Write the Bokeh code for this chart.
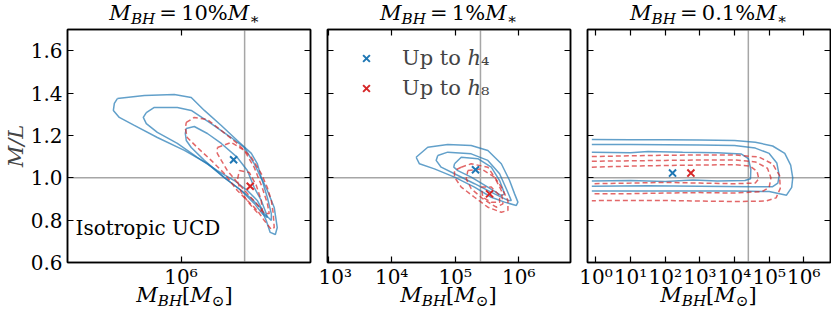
from bokeh.plotting import figure
from bokeh.layouts import row, column
from bokeh.models import (Label, Span, LogAxis, LinearAxis, FixedTicker, Legend,
                          LegendItem, Range1d, Div)
from bokeh.embed import file_html
from bokeh.resources import INLINE

FONT = "DejaVu Serif"
BLUE = "#1f77b4"
RED = "#d62728"

# ------------------------------------------------------------------ data
true_ml = 1.0
true_mbh = [2.5e6, 2.5e5, 2.5e4]
bh_fraction_labels = ["10%", "1%", "0.1%"]
x_log_limits = [(5.29, 6.81), (2.99, 6.815), (-0.245, 6.77)]
x_tick_exps = [[6], [3, 4, 5, 6], [0, 1, 2, 3, 4, 5, 6]]
y_ticks = [0.6, 0.8, 1.0, 1.2, 1.4, 1.6]
y_tick_labels = ["0.6", "0.8", "1.0", "1.2", "1.4", "1.6"]
y_limits = (0.6, 1.7)
legend_labels = ["Up to \u210e\u2084", "Up to \u210e\u2088"]
panel_note = "Isotropic UCD"
y_axis_title = "M/L"

best_h4_logmbh = [6.329, 5.320, 2.21]
best_h4_ml = [1.085, 1.038, 1.022]
best_h8_logmbh = [6.433, 5.541, 2.74]
best_h8_ml = [0.960, 0.924, 1.022]

# panel 1 (10%) contours, log10(M_BH) and M/L
p1_h4_c1_x = [5.602, 5.771, 5.958, 6.064, 6.146, 6.252, 6.352, 6.440, 6.477, 6.502, 6.540, 6.583, 6.602, 6.590,
              6.558, 6.533, 6.496, 6.433, 6.352, 6.271, 6.165, 6.021, 5.852, 5.708, 5.614, 5.577, 5.583]
p1_h4_c1_y = [1.374, 1.388, 1.393, 1.379, 1.318, 1.247, 1.176, 1.115, 1.067, 1.001, 0.940, 0.860, 0.765, 0.732,
              0.742, 0.798, 0.860, 0.907, 0.954, 1.001, 1.067, 1.129, 1.190, 1.247, 1.285, 1.318, 1.351]
p1_h4_c2_x = [5.783, 5.833, 5.977, 6.064, 6.189, 6.314, 6.396, 6.458, 6.508, 6.540, 6.565, 6.565,
              6.521, 6.477, 6.415, 6.333, 6.227, 6.102, 5.977, 5.852, 5.783, 5.764]
p1_h4_c2_y = [1.308, 1.332, 1.332, 1.318, 1.256, 1.190, 1.143, 1.067, 0.987, 0.907, 0.831, 0.798,
              0.831, 0.893, 0.940, 0.987, 1.034, 1.096, 1.162, 1.214, 1.256, 1.285]
p1_h4_c3_x = [6.033, 6.083, 6.165, 6.252, 6.352, 6.415, 6.458, 6.502, 6.533, 6.540,
              6.508, 6.458, 6.377, 6.271, 6.146, 6.064, 6.033, 6.027]
p1_h4_c3_y = [1.233, 1.242, 1.209, 1.162, 1.096, 1.034, 0.954, 0.893, 0.831, 0.812,
              0.831, 0.879, 0.940, 1.001, 1.082, 1.143, 1.176, 1.209]
p1_h8_c1_x = [6.033, 6.083, 6.165, 6.252, 6.352, 6.440, 6.502, 6.540, 6.565, 6.577, 6.583,
              6.565, 6.521, 6.477, 6.415, 6.352, 6.271, 6.189, 6.102, 6.039, 6.027]
p1_h8_c1_y = [1.261, 1.285, 1.275, 1.223, 1.162, 1.096, 1.020, 0.954, 0.893, 0.831, 0.765,
              0.756, 0.798, 0.846, 0.893, 0.940, 1.020, 1.082, 1.143, 1.190, 1.233]
p1_h8_c2_x = [6.228, 6.315, 6.396, 6.458, 6.508, 6.540, 6.552, 6.521, 6.471, 6.415, 6.352, 6.290, 6.252, 6.227]
p1_h8_c2_y = [1.143, 1.167, 1.129, 1.049, 0.954, 0.879, 0.831, 0.831, 0.879, 0.926, 0.978, 1.034, 1.082, 1.115]
p1_h8_c3_x = [6.365, 6.427, 6.471, 6.502, 6.508, 6.477, 6.427, 6.377, 6.352]
p1_h8_c3_y = [1.034, 1.025, 0.964, 0.893, 0.846, 0.836, 0.879, 0.930, 0.987]

# panel 2 (1%) contours
p2_h4_c1_x = [4.385, 4.568, 4.883, 5.252, 5.514, 5.726, 5.856, 5.935, 5.987, 5.962,
              5.778, 5.568, 5.304, 4.989, 4.673, 4.437]
p2_h4_c1_y = [1.097, 1.144, 1.157, 1.152, 1.129, 1.066, 0.987, 0.924, 0.885, 0.869,
              0.885, 0.908, 0.956, 1.003, 1.042, 1.066]
p2_h4_c2_x = [4.726, 4.883, 5.252, 5.514, 5.699, 5.804, 5.883, 5.830, 5.620, 5.304, 4.989, 4.779, 4.700]
p2_h4_c2_y = [1.105, 1.121, 1.113, 1.082, 1.019, 0.948, 0.893, 0.893, 0.924, 0.972, 1.019, 1.050, 1.082]
p2_h4_c3_x = [4.989, 5.095, 5.356, 5.568, 5.699, 5.778, 5.726, 5.514, 5.252, 5.041, 4.978]
p2_h4_c3_y = [1.066, 1.097, 1.090, 1.050, 0.987, 0.924, 0.916, 0.956, 1.003, 1.034, 1.050]
p2_h8_c1_x = [5.095, 5.252, 5.514, 5.726, 5.830, 5.830, 5.726, 5.514, 5.304, 5.095, 4.989, 4.989]
p2_h8_c1_y = [1.050, 1.066, 1.050, 0.956, 0.893, 0.846, 0.837, 0.861, 0.908, 0.956, 1.003, 1.034]
p2_h8_c2_x = [5.199, 5.410, 5.620, 5.726, 5.751, 5.647, 5.435, 5.252, 5.174]
p2_h8_c2_y = [1.034, 1.042, 1.003, 0.940, 0.877, 0.861, 0.901, 0.948, 0.995]
p2_h8_c3_x = [5.410, 5.568, 5.699, 5.699, 5.568, 5.435]
p2_h8_c3_y = [0.956, 0.956, 0.916, 0.885, 0.885, 0.908]

# panel 3 (0.1%) contours (open at the low-mass edge of the grid)
p3_h4_c1_x = [-0.12, 1.0, 2.0, 3.0, 4.0, 4.6, 5.1, 5.45, 5.62, 5.68, 5.65, 5.5, 5.3, 5.0, 4.0, 2.0, -0.12]
p3_h4_c1_y = [1.181, 1.180, 1.179, 1.178, 1.176, 1.168, 1.150, 1.115, 1.060, 1.000, 0.955, 0.918, 0.925,
              0.935, 0.937, 0.937, 0.938]
p3_h4_c2_x = [-0.12, 1.0, 2.0, 3.0, 4.0, 4.6, 5.0, 5.22, 5.29, 5.25, 5.1, 4.5, 3.0, 1.5, -0.12]
p3_h4_c2_y = [1.157, 1.157, 1.156, 1.155, 1.152, 1.140, 1.115, 1.070, 1.010, 0.975, 0.958, 0.958, 0.960,
              0.962, 0.960]
p3_h4_c3_x = [-0.12, 1.0, 1.5, 2.5, 3.5, 4.2, 4.40, 4.47, 4.46, 4.3, 3.5, 2.8, 2.0, 1.0, -0.12]
p3_h4_c3_y = [1.121, 1.118, 1.124, 1.120, 1.118, 1.112, 1.090, 1.040, 0.995, 0.987, 0.985, 0.990, 0.982,
              0.987, 0.985]
p3_h8_c1_x = [-0.12, 1.0, 2.0, 3.0, 4.0, 4.7, 5.1, 5.3, 5.32, 5.2, 4.9, 4.0, 3.0, 2.0, 1.0, -0.12]
p3_h8_c1_y = [1.100, 1.104, 1.106, 1.108, 1.108, 1.098, 1.065, 1.010, 0.950, 0.905, 0.890, 0.888, 0.890,
              0.893, 0.893, 0.892]
p3_h8_c2_x = [-0.12, 1.0, 2.0, 3.0, 4.0, 4.6, 4.95, 5.05, 5.0, 4.8, 4.0, 3.0, 2.0, 1.0, -0.12]
p3_h8_c2_y = [1.078, 1.080, 1.082, 1.084, 1.084, 1.075, 1.045, 1.000, 0.955, 0.935, 0.928, 0.930, 0.928,
              0.925, 0.925]
p3_h8_c3_x = [-0.12, 1.0, 2.0, 3.0, 4.0, 4.45, 4.65, 4.70, 4.6, 4.0, 3.0, 2.0, 1.0, -0.12]
p3_h8_c3_y = [1.050, 1.055, 1.058, 1.060, 1.062, 1.055, 1.030, 0.995, 0.975, 0.972, 0.975, 0.978, 0.975,
              0.972]

panels_h4 = [
    [(p1_h4_c1_x, p1_h4_c1_y), (p1_h4_c2_x, p1_h4_c2_y), (p1_h4_c3_x, p1_h4_c3_y)],
    [(p2_h4_c1_x, p2_h4_c1_y), (p2_h4_c2_x, p2_h4_c2_y), (p2_h4_c3_x, p2_h4_c3_y)],
    [(p3_h4_c1_x, p3_h4_c1_y), (p3_h4_c2_x, p3_h4_c2_y), (p3_h4_c3_x, p3_h4_c3_y)],
]
panels_h8 = [
    [(p1_h8_c1_x, p1_h8_c1_y), (p1_h8_c2_x, p1_h8_c2_y), (p1_h8_c3_x, p1_h8_c3_y)],
    [(p2_h8_c1_x, p2_h8_c1_y), (p2_h8_c2_x, p2_h8_c2_y), (p2_h8_c3_x, p2_h8_c3_y)],
    [(p3_h8_c1_x, p3_h8_c1_y), (p3_h8_c2_x, p3_h8_c2_y), (p3_h8_c3_x, p3_h8_c3_y)],
]
closed_contours = [True, True, False]

# ------------------------------------------------------------------ style helpers
SUP = {0: "\u2070", 1: "\u00b9", 2: "\u00b2", 3: "\u00b3", 4: "\u2074", 5: "\u2075", 6: "\u2076"}
FW, FH = 243, 233
TICK_SIZE = "20px"
BORDERS = [(63, 8), (9, 8), (9, 5)]

TXT = ("font-family:'DejaVu Serif'; font-size:21px; color:black; white-space:nowrap; "
       "text-align:center; width:%dpx;" % FW)
SUBS = "font-size:72%; vertical-align:-0.28em; line-height:0;"


def title_html(frac):
    return (f'<div style="{TXT} line-height:27px;"><i>M</i><span style="{SUBS}"><i>BH</i></span>'
            f'&#8201;=&#8201;{frac}<i>M</i><span style="{SUBS}">\u2217</span></div>')


def xlabel_html():
    return (f'<div style="{TXT} line-height:22px;"><i>M</i><span style="{SUBS}"><i>BH</i></span>'
            f'[<i>M</i><span style="{SUBS}">\u2299</span>]</div>')


def style_axis(ax, show_labels, standoff=5):
    ax.major_tick_in = 6
    ax.major_tick_out = 0
    ax.minor_tick_line_color = None
    ax.axis_line_color = "black"
    ax.axis_line_width = 1.5
    ax.major_tick_line_color = "black"
    ax.major_tick_line_width = 1.2
    ax.major_label_text_font = FONT
    ax.major_label_text_color = "black"
    if show_labels:
        ax.major_label_text_font_size = TICK_SIZE
        ax.major_label_standoff = standoff
    else:
        ax.major_label_text_font_size = "1px"
        ax.major_label_text_alpha = 0
        ax.major_label_standoff = 0


def make_panel(i):
    bl, br = BORDERS[i]
    lo, hi = x_log_limits[i]
    p = figure(x_axis_type="log", x_range=Range1d(10 ** lo, 10 ** hi), y_range=Range1d(*y_limits),
               frame_width=FW, frame_height=FH, min_border_left=bl,
               min_border_right=br, min_border_top=3, min_border_bottom=10,
               output_backend="svg", toolbar_location=None)
    p.background_fill_color = "white"
    p.border_fill_alpha = 0
    p.outline_line_color = "black"
    p.outline_line_width = 1.5
    p.grid.visible = False

    xt = [10.0 ** e for e in x_tick_exps[i]]
    xlab = {10.0 ** e: "10" + SUP[e] for e in x_tick_exps[i]}
    ylab = {t: l for t, l in zip(y_ticks, y_tick_labels)}

    p.xaxis.ticker = FixedTicker(ticks=xt)
    p.xaxis.major_label_overrides = xlab
    style_axis(p.xaxis[0], True, standoff=2)
    p.yaxis.ticker = FixedTicker(ticks=y_ticks)
    p.yaxis.major_label_overrides = ylab
    style_axis(p.yaxis[0], i == 0, standoff=5)
    if i == 0:
        p.yaxis.axis_label = y_axis_title
        p.yaxis.axis_label_text_font = FONT
        p.yaxis.axis_label_text_font_size = "21px"
        p.yaxis.axis_label_text_font_style = "italic"
        p.yaxis.axis_label_standoff = 0

    top = LogAxis(ticker=FixedTicker(ticks=xt))
    style_axis(top, False)
    p.add_layout(top, "above")
    right = LinearAxis(ticker=FixedTicker(ticks=y_ticks))
    style_axis(right, False)
    p.add_layout(right, "right")

    p.add_layout(Span(location=true_ml, dimension="width", line_color="#a6a6a6",
                      line_width=1.5, level="underlay"))
    p.add_layout(Span(location=true_mbh[i], dimension="height", line_color="#a6a6a6",
                      line_width=1.5, level="underlay"))

    for cx, cy in panels_h4[i]:
        xs, ys = list(cx), list(cy)
        if closed_contours[i]:
            xs, ys = xs + xs[:1], ys + ys[:1]
        p.line([10 ** v for v in xs], ys, line_color=BLUE, line_alpha=0.7, line_width=1.5)
    for cx, cy in panels_h8[i]:
        xs, ys = list(cx), list(cy)
        if closed_contours[i]:
            xs, ys = xs + xs[:1], ys + ys[:1]
        p.line([10 ** v for v in xs], ys, line_color=RED, line_alpha=0.7, line_width=1.5,
               line_dash="5 3")

    r4 = p.scatter([10 ** best_h4_logmbh[i]], [best_h4_ml[i]], marker="x", size=10,
                   line_color=BLUE, line_width=2)
    r8 = p.scatter([10 ** best_h8_logmbh[i]], [best_h8_ml[i]], marker="x", size=10,
                   line_color=RED, line_width=2)

    t = Div(text=title_html(bh_fraction_labels[i]), width=FW, height=26, margin=(0, br, 0, bl))
    xl = Div(text=xlabel_html(), width=FW, height=26, margin=(-7, br, 0, bl))
    return column(t, p, xl, spacing=0), p, r4, r8


c1, p1, _, _ = make_panel(0)
c2, p2, b2, r2 = make_panel(1)
c3, p3, _, _ = make_panel(2)

p1.add_layout(Label(x=8, y=35, x_units="screen", y_units="screen", text=panel_note,
                    text_font=FONT, text_font_size="20px", text_align="left",
                    text_baseline="alphabetic", text_color="black"))

legend = Legend(items=[LegendItem(label=legend_labels[0], renderers=[b2]),
                       LegendItem(label=legend_labels[1], renderers=[r2])],
                location="top_left", margin=0, padding=17, spacing=6, glyph_width=44,
                glyph_height=24, label_height=24, label_standoff=14,
                label_text_font=FONT, label_text_font_size="21px",
                border_line_alpha=0, background_fill_alpha=0)
p2.add_layout(legend)

layout = row(c1, c2, c3, spacing=0)
open("out.html", "w").write(file_html(layout, INLINE))
